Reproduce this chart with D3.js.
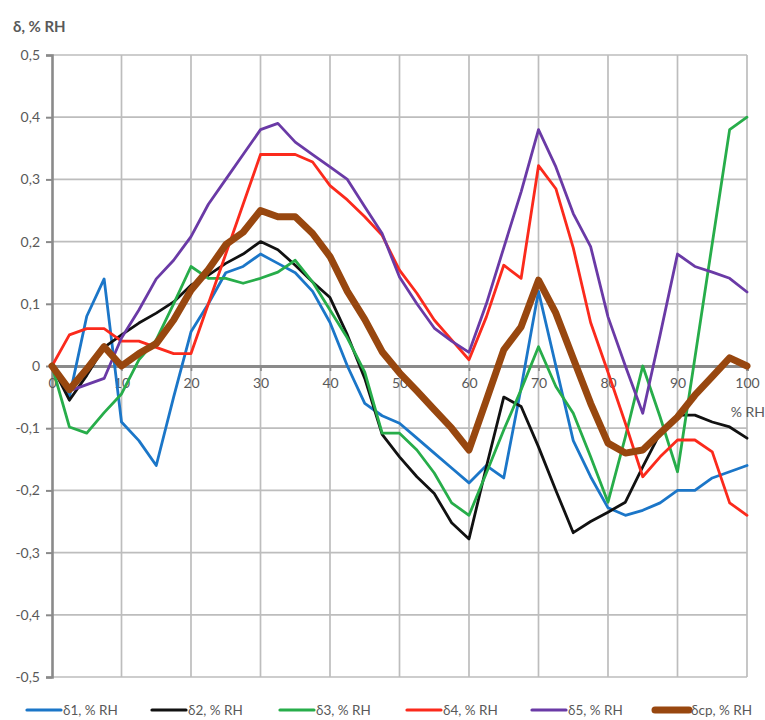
<!DOCTYPE html>
<html>
<head>
<meta charset="utf-8">
<script src="https://cdn.jsdelivr.net/npm/d3@7"></script>
<style>
  html, body { margin: 0; padding: 0; background: #ffffff; }
  svg { display: block; }
  text { font-family: Lato, "Open Sans", sans-serif; fill: #595959; }
</style>
</head>
<body>
<svg id="chart" width="765" height="720"></svg>
<script>
// ---- data ----
const xValues = [0, 2.5, 5, 7.5, 10, 12.5, 15, 17.5, 20, 22.5, 25, 27.5, 30, 32.5, 35, 37.5, 40, 42.5, 45, 47.5,
  50, 52.5, 55, 57.5, 60, 62.5, 65, 67.5, 70, 72.5, 75, 77.5, 80, 82.5, 85, 87.5, 90, 92.5, 95, 97.5, 100];

const d1 = [0, -0.05, 0.08, 0.14, -0.09, -0.12, -0.16, -0.05, 0.055, 0.1, 0.15, 0.16, 0.18, 0.165, 0.15, 0.12, 0.07, 0.0, -0.06, -0.08,
  -0.092, -0.116, -0.14, -0.164, -0.188, -0.16, -0.18, -0.035, 0.12, 0.0, -0.12, -0.178, -0.228, -0.24, -0.232, -0.22, -0.2, -0.2, -0.18, -0.17, -0.16];

const d2 = [0, -0.055, -0.015, 0.03, 0.05, 0.069, 0.085, 0.103, 0.13, 0.146, 0.165, 0.18, 0.2, 0.187, 0.162, 0.135, 0.11, 0.05, -0.02, -0.11,
  -0.146, -0.178, -0.205, -0.252, -0.278, -0.162, -0.05, -0.065, -0.13, -0.2, -0.268, -0.25, -0.235, -0.219, -0.162, -0.108, -0.079, -0.079, -0.09, -0.098, -0.116];

const d3v = [0, -0.098, -0.108, -0.075, -0.045, 0.01, 0.042, 0.1, 0.16, 0.141, 0.141, 0.133, 0.141, 0.151, 0.17, 0.135, 0.09, 0.045, -0.01, -0.108,
  -0.108, -0.135, -0.172, -0.22, -0.24, -0.172, -0.103, -0.038, 0.031, -0.033, -0.076, -0.146, -0.219, -0.114, 0.0, -0.082, -0.17, 0.013, 0.197, 0.38, 0.4];

const d4 = [0, 0.05, 0.06, 0.06, 0.04, 0.04, 0.03, 0.02, 0.02, 0.1, 0.18, 0.26, 0.34, 0.34, 0.34, 0.328, 0.29, 0.267, 0.24, 0.21,
  0.154, 0.117, 0.074, 0.042, 0.01, 0.079, 0.162, 0.141, 0.322, 0.285, 0.19, 0.07, -0.01, -0.092, -0.178, -0.146, -0.119, -0.119, -0.138, -0.22, -0.24];

const d5 = [0, -0.04, -0.03, -0.02, 0.045, 0.09, 0.14, 0.17, 0.208, 0.26, 0.3, 0.34, 0.38, 0.39, 0.36, 0.34, 0.32, 0.3, 0.256, 0.213,
  0.143, 0.1, 0.061, 0.04, 0.022, 0.1, 0.19, 0.28, 0.38, 0.32, 0.245, 0.192, 0.079, 0.0, -0.076, 0.05, 0.18, 0.16, 0.151, 0.141, 0.119];

const dcp = [0, -0.038, -0.005, 0.031, 0.0, 0.02, 0.036, 0.074, 0.122, 0.155, 0.195, 0.215, 0.25, 0.24, 0.24, 0.213, 0.176, 0.12, 0.075, 0.023,
  -0.011, -0.04, -0.07, -0.1, -0.135, -0.055, 0.026, 0.063, 0.138, 0.085, 0.012, -0.06, -0.124, -0.14, -0.135, -0.108, -0.082, -0.047, -0.017, 0.013, 0.0];

const seriesNames = ["δ1, % RH", "δ2, % RH", "δ3, % RH", "δ4, % RH", "δ5, % RH", "δср, % RH"];
const seriesValues = [d1, d2, d3v, d4, d5, dcp];
const seriesColors = ["#1b76c8", "#111111", "#27ad4a", "#fb2a1c", "#6a3aa6", "#98470f"];
const seriesWidths = [2.8, 2.8, 2.8, 2.8, 2.8, 7];

const xTicks = [0, 10, 20, 30, 40, 50, 60, 70, 80, 90, 100];
const yTicks = [-0.5, -0.4, -0.3, -0.2, -0.1, 0, 0.1, 0.2, 0.3, 0.4, 0.5];
const yTitle = "δ, % RH";
const xTitle = "% RH";

// ---- drawing ----
const svg = d3.select("#chart");
const x = d3.scaleLinear().domain([0, 100]).range([52, 747]);
const y = d3.scaleLinear().domain([-0.5, 0.5]).range([677, 55]);
const fmt = v => (v === 0 ? "0" : d3.format(".1f")(v).replace(".", ",").replace("−", "-"));

// gridlines
const grid = svg.append("g");
grid.selectAll("line.h").data(yTicks.filter(v => v !== 0)).join("line")
  .attr("x1", x(0)).attr("x2", x(100))
  .attr("y1", d => y(d)).attr("y2", d => y(d))
  .attr("stroke", "#bdbdbd").attr("stroke-width", 1.7);
grid.selectAll("line.v").data(xTicks.filter(v => v !== 0)).join("line")
  .attr("x1", d => x(d)).attr("x2", d => x(d))
  .attr("y1", y(0.5)).attr("y2", y(-0.5))
  .attr("stroke", "#bdbdbd").attr("stroke-width", 1.7);

// y axis (left)
const yAxis = d3.axisLeft(y).tickValues(yTicks).tickSize(6).tickPadding(6).tickFormat(fmt);
const gy = svg.append("g").attr("transform", `translate(${x(0)},0)`).call(yAxis);
gy.select(".domain").attr("stroke", "#8a8a8a").attr("stroke-width", 2.6);
gy.selectAll(".tick line").attr("stroke", "#8a8a8a").attr("stroke-width", 2);
gy.selectAll(".tick text").attr("font-size", 14).attr("fill", "#595959")
  .style("font-family", "Lato, 'Open Sans', sans-serif");

// x axis at zero
const xAxis = d3.axisBottom(x).tickValues(xTicks).tickSize(5).tickPadding(7).tickFormat(d3.format("d"));
const gx = svg.append("g").attr("transform", `translate(0,${y(0)})`).call(xAxis);
gx.select(".domain").attr("stroke", "#8a8a8a").attr("stroke-width", 2.8);
gx.selectAll(".tick line").attr("stroke", "#8a8a8a").attr("stroke-width", 1.6);
gx.selectAll(".tick text").attr("font-size", 14).attr("fill", "#595959")
  .style("font-family", "Lato, 'Open Sans', sans-serif");

// titles
svg.append("text").attr("x", 13).attr("y", 32).attr("font-size", 15).attr("font-weight", "bold")
  .text(yTitle);
svg.append("text").attr("x", 765).attr("y", 417).attr("text-anchor", "end").attr("font-size", 14)
  .text(xTitle);

// lines
const line = d3.line().x((d, i) => x(xValues[i])).y(d => y(d));
const lines = svg.append("g");
seriesValues.forEach((vals, k) => {
  lines.append("path").datum(vals)
    .attr("d", line)
    .attr("fill", "none")
    .attr("stroke", seriesColors[k])
    .attr("stroke-width", seriesWidths[k])
    .attr("stroke-linejoin", "round")
    .attr("stroke-linecap", "round");
});

// legend
const legendX = [27, 152, 280, 407, 532, 655];
const legend = svg.append("g");
seriesNames.forEach((name, k) => {
  const g = legend.append("g").attr("transform", `translate(${legendX[k]},710)`);
  g.append("line").attr("x1", 0).attr("x2", 34).attr("y1", 0).attr("y2", 0)
    .attr("stroke", seriesColors[k]).attr("stroke-width", k === 5 ? 7 : 3.2)
    .attr("stroke-linecap", "round");
  g.append("text").attr("x", 36).attr("y", 5).attr("font-size", 13.5).text(name);
});
</script>
</body>
</html>
